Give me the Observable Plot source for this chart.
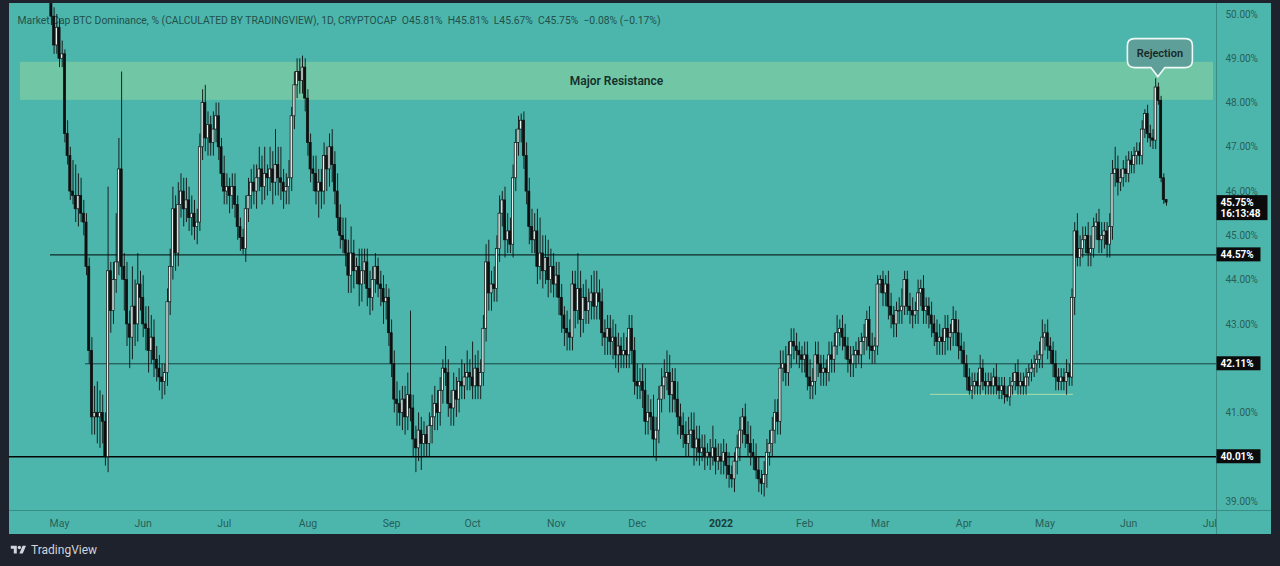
<!DOCTYPE html>
<html>
<head>
<meta charset="utf-8">
<script src="https://cdn.jsdelivr.net/npm/d3@7"></script>
<script src="https://cdn.jsdelivr.net/npm/@observablehq/plot@0.6"></script>
<style>
  html, body { margin: 0; padding: 0; }
  body { width: 1280px; height: 566px; overflow: hidden; position: relative; background: #1e222d; font-family: Roboto, "Noto Sans", sans-serif; }
  #panel { position: absolute; left: 9px; top: 3px; width: 1262px; height: 531px; background: #4db6ac; }
  #vdiv { position: absolute; left: 1216px; top: 3px; width: 1px; height: 531px; background: #3a8d85; }
  #hdiv { position: absolute; left: 9px; top: 510px; width: 1262px; height: 1px; background: #3a8d85; }
  #chart { position: absolute; left: 0; top: 0; }
  #brand { position: absolute; left: 10px; top: 543px; display: flex; align-items: center; gap: 4px; color: #d1d4dc; font-size: 12px; font-family: Roboto, sans-serif; }
</style>
</head>
<body>
<div id="panel"></div>
<div id="vdiv"></div>
<div id="hdiv"></div>
<div id="chart"></div>
<div id="brand"><svg width="17" height="12" viewBox="0 0 36 28"><path d="M14 22H7V11H0V4h14v18zM28 22h-8l7.5-18h8L28 22z" fill="#d1d4dc"/><circle cx="20" cy="8" r="4" fill="#d1d4dc"/></svg><span>TradingView</span></div>
<script>
// ---------- DATA ----------
const firstDay = "2021-04-23";          // date of the first daily candle
// daily closes, %, one per day from firstDay
const closes = [
  51.0,51.3,51.5,51.2,50.9,49.95,49.3,49.7,49.0,49.1,
  47.3,46.8,46.0,45.9,45.6,45.9,45.5,45.3,44.3,42.4,
  40.9,41.0,40.9,41.0,40.8,40.0,44.2,43.3,44.0,44.4,
  46.5,44.3,44.0,43.0,42.7,43.4,43.0,43.9,43.6,43.0,
  42.9,42.4,42.7,42.2,42.0,41.8,41.7,41.9,43.5,44.3,
  45.6,44.6,45.7,46.0,45.6,45.8,45.4,45.5,45.2,45.3,
  47.0,48.0,47.2,47.5,47.1,47.4,47.7,47.0,46.4,46.0,
  46.1,45.9,46.1,45.7,45.2,44.95,44.7,45.6,45.9,46.2,
  46.0,46.3,46.5,46.1,46.4,46.3,46.5,46.2,46.6,46.3,
  46.2,46.0,46.1,46.3,47.7,48.4,48.7,48.5,48.8,48.1,
  47.1,46.5,46.4,46.0,46.2,46.0,46.8,46.5,47.0,46.6,
  46.0,45.4,45.0,44.9,44.6,44.1,44.6,44.2,44.3,43.9,
  44.2,44.4,43.8,43.6,44.0,44.3,43.9,43.8,43.5,43.6,
  42.8,42.1,41.3,41.2,41.0,41.3,40.9,41.4,41.1,40.4,
  40.2,40.6,40.3,40.5,40.3,40.7,40.9,41.2,41.0,41.5,
  42.0,41.9,41.2,41.1,41.5,41.3,41.7,41.6,41.8,41.9,
  41.8,41.6,42.0,41.6,41.9,42.9,44.4,43.7,43.9,43.8,
  44.7,45.5,45.8,44.9,45.1,44.8,46.3,47.1,47.4,47.6,
  46.8,46.0,45.2,44.9,45.1,44.3,44.6,44.2,44.5,44.0,
  44.3,43.9,44.1,43.6,43.2,42.9,42.8,42.7,43.9,43.3,
  43.8,43.1,43.6,43.3,43.5,43.7,43.4,43.7,43.5,42.8,
  42.7,42.9,42.6,42.7,42.3,42.5,42.3,42.4,42.3,42.9,
  42.4,41.7,41.6,41.7,41.5,40.8,41.0,40.9,40.4,40.6,
  41.3,41.6,41.8,41.9,41.4,41.7,41.3,40.9,40.7,40.5,
  40.3,40.5,40.6,40.2,40.4,40.1,40.2,40.0,40.1,40.0,
  40.2,39.9,40.0,39.9,40.1,39.8,39.6,39.5,39.9,40.2,
  40.6,40.9,40.5,40.3,40.1,40.0,39.7,39.5,39.4,39.6,
  40.1,40.3,40.6,41.0,40.8,42.0,42.1,41.9,42.3,42.6,
  42.5,42.4,42.3,42.2,42.3,41.8,41.6,41.7,42.3,42.1,
  41.9,42.0,41.9,42.3,42.2,42.5,42.8,42.9,42.7,42.5,
  42.2,42.1,42.3,42.4,42.3,42.6,42.7,43.1,42.5,42.4,
  42.5,43.9,44.0,43.7,43.9,43.4,43.2,43.0,43.3,43.3,
  43.4,44.0,43.4,43.3,43.2,43.3,43.7,43.8,43.3,43.4,
  43.2,43.0,42.8,42.6,42.7,42.6,42.9,42.7,42.8,43.1,
  42.8,42.5,42.4,42.1,41.8,41.5,41.6,41.7,41.6,42.0,
  41.7,41.6,41.7,41.6,41.8,41.6,41.5,41.6,41.4,41.35,
  41.6,41.7,41.9,41.6,41.7,41.6,41.8,41.9,42.0,42.1,
  42.2,42.3,42.7,42.8,42.5,42.4,42.1,41.8,41.7,41.8,
  41.7,41.9,41.8,43.6,45.1,44.5,44.7,44.9,45.0,44.6,
  44.7,45.2,45.3,44.9,45.0,45.1,44.8,45.2,46.4,46.5,
  46.2,46.3,46.5,46.4,46.7,46.6,46.8,46.9,46.8,47.4,
  47.75,47.3,47.2,47.15,48.35,48.05,46.3,45.81,45.75
];
// upper wick length above the body, %
const wickUp = [
  .1,.2,.3,.2,.1,.3,.2,.3,.2,.3,
  .1,.3,.2,.7,.7,.5,.4,.3,.2,.2,
  .3,.6,.7,.5,.4,.2,1.9,.2,.4,1.1,
  .7,2.2,.3,.4,.3,.9,.6,.7,.3,.5,
  .4,.5,.5,.4,.3,.3,.3,.2,.3,.4,
  .5,.3,.5,.4,.3,.5,.3,.4,.3,.3,
  .3,.3,.4,.3,.2,.4,.3,.3,.2,.4,
  .3,.2,.3,.3,.2,.2,.2,.3,.4,.3,
  .4,.3,.5,.3,.6,.2,.5,.4,.8,.4,
  .7,.3,.3,.4,.2,.3,.3,.3,.26,.2,
  .2,.2,.3,.4,.3,.3,.3,.2,.3,.4,
  .3,.4,.3,.4,.5,.3,.6,.3,.2,.4,
  .5,.3,.3,.4,.3,.3,.2,.3,.3,.3,
  .2,.3,.3,.4,.3,.3,.3,.5,1.9,.3,
  .3,.4,.3,.3,.2,.3,.5,.4,.3,.3,
  .2,.5,.3,.3,.4,.3,.3,.5,.3,.5,
  .3,.8,.3,.4,.3,.3,.4,.5,.3,.4,
  .3,.4,.2,.3,.4,.3,.3,.3,.3,.15,
  .2,.3,.3,.4,.4,.5,.8,.4,.5,.4,
  .4,.3,.3,.3,.3,.2,.4,.3,.3,.3,
  .8,.4,.3,.4,.3,.4,.5,.5,.3,.3,
  .3,.3,.3,.4,.3,.3,.2,.4,.3,.3,
  .3,.3,.4,.3,.4,.5,.4,.3,.5,.3,
  .3,.4,.4,.5,.4,.3,.3,.4,.3,.3,
  .3,.4,.4,.4,.3,.3,.3,.3,.2,.3,
  .5,.2,.3,.3,.3,.2,.3,.2,.2,.3,
  .3,.2,.3,.3,.4,.3,.3,.3,.2,.3,
  .3,.3,.3,.3,.3,.4,.3,.4,.3,.3,
  .3,.3,.2,.2,.3,.3,.4,.3,.3,.3,
  .2,.3,.2,.3,.3,.3,.4,.2,.3,.3,
  .2,.3,.2,.2,.3,.2,.3,.2,.3,.3,
  .2,.2,.1,.2,.2,.3,.3,.2,.2,.3,
  .4,.2,.2,.3,.3,.2,.3,.2,.3,.2,
  .2,.3,.2,.3,.3,.2,.3,.3,.2,.3,
  .2,.3,.3,.2,.2,.2,.3,.2,.2,.3,
  .2,.2,.2,.2,.2,.3,.2,.2,.2,.2,
  .2,.2,.2,.3,.2,.2,.2,.2,.2,.2,
  .2,.3,.4,.2,.3,.2,.2,.3,.2,.2,
  .2,.3,.2,.2,.2,.4,.3,.3,.2,.3,
  .3,.2,.2,.3,.3,.2,.2,.3,.3,.5,
  .3,.2,.2,.3,.2,.2,.2,.2,.2,.2,
  .1,.2,.2,.2,.2,.1,.1,.1,0
];
// lower wick length below the body, %
const wickDown = [
  .75,.2,.2,.2,.2,.2,.2,.2,.2,.2,
  .2,.2,.2,.2,.3,.4,.2,.3,.2,.3,
  .4,.4,.6,.7,.5,.2,.35,.5,.3,.3,
  .3,.3,.7,.5,.7,.5,.5,.4,.3,.3,
  .5,.5,.3,.4,.3,.3,.4,.3,.3,.3,
  .3,.4,.3,.3,.4,.3,.3,.4,.3,.4,
  .2,.3,.3,.4,.3,.3,.3,.3,.3,.3,
  .3,.4,.3,.3,.3,.3,.12,.3,.3,.3,
  .3,.4,.3,.4,.3,.4,.3,.5,.3,.4,
  .4,.4,.3,.4,.3,.3,.3,.3,.3,.3,
  .3,.3,.4,.3,.6,.4,.3,.5,.4,.4,
  .3,.3,.3,.3,.3,.4,.4,.4,.3,.5,
  .4,.3,.4,.4,.3,.3,.3,.4,.5,.4,
  .3,.3,.3,.5,.3,.4,.4,.3,.3,.4,
  .55,.3,.6,.3,.3,.3,.4,.3,.4,.3,
  .3,.3,.3,.4,.4,.4,.3,.3,.3,.3,
  .3,.3,.3,.3,.3,.3,.3,.4,.4,.3,
  .3,.3,.3,.4,.3,.2,.3,.3,.3,.3,
  .3,.3,.4,.3,.3,.4,.3,.4,.3,.4,
  .3,.3,.3,.4,.4,.4,.4,.3,.3,.4,
  .3,.4,.3,.3,.3,.4,.3,.3,.4,.3,
  .4,.4,.3,.4,.3,.4,.3,.3,.3,.3,
  .3,.3,.3,.3,.4,.3,.3,.3,.4,.5,
  .3,.3,.3,.3,.4,.4,.3,.4,.3,.3,
  .3,.3,.3,.4,.3,.3,.2,.3,.2,.3,
  .2,.3,.2,.3,.3,.3,.3,.2,.3,.3,
  .3,.3,.3,.3,.3,.3,.2,.3,.25,.3,
  .3,.3,.3,.3,.3,.3,.3,.3,.3,.3,
  .3,.3,.3,.3,.3,.3,.3,.3,.3,.3,
  .3,.3,.3,.2,.3,.3,.2,.3,.3,.3,
  .3,.3,.3,.3,.2,.3,.3,.3,.3,.3,
  .3,.2,.2,.3,.3,.3,.3,.3,.3,.3,
  .3,.2,.2,.3,.3,.2,.3,.3,.3,.3,
  .3,.3,.3,.3,.3,.3,.3,.3,.3,.3,
  .3,.3,.3,.3,.3,.1,.2,.2,.2,.2,
  .2,.2,.2,.2,.2,.2,.2,.2,.2,.1,
  .2,.2,.2,.2,.2,.2,.2,.2,.2,.2,
  .2,.2,.3,.3,.3,.3,.3,.3,.2,.2,
  .2,.3,.2,.2,.4,.2,.2,.2,.3,.3,
  .3,.2,.3,.3,.3,.3,.3,.3,.3,.3,
  .3,.2,.2,.2,.2,.2,.2,.2,.2,.2,
  .2,.2,.2,.2,.2,.1,.1,.1,.08
];

// right-axis tick labels shown (TradingView hides 40 and 42 behind the level tags)
const yTicks = [39, 41, 43, 44, 45, 46, 47, 48, 49, 50];
const monthTicks = ["2021-05-01","2021-06-01","2021-07-01","2021-08-01","2021-09-01","2021-10-01","2021-11-01","2021-12-01","2022-01-01","2022-02-01","2022-03-01","2022-04-01","2022-05-01","2022-06-01","2022-07-01"];
const monthLabels = ["May","Jun","Jul","Aug","Sep","Oct","Nov","Dec","2022","Feb","Mar","Apr","May","Jun","Jul"];

const levelValues = [44.57, 42.11, 40.01];
const levelStarts = ["2021-04-27T16:00Z", "2021-05-10T15:00Z", "2021-04-12T11:30Z"];
const levelColors = ["#0f2826", "#1a4540", "#050505"];
const levelWidths = [1.1, 1, 1.6];

const resistanceLow = 48.06, resistanceHigh = 48.92;
const resistanceStart = "2021-04-16T13:00Z", resistanceEnd = "2022-07-02T10:00Z";
const resistanceLabel = "Major Resistance", resistanceLabelDate = "2021-11-23T07:00Z";

const supportValue = 41.42, supportStart = "2022-03-19T14:00Z", supportEnd = "2022-05-11T12:00Z";

const titleText = "Market Cap BTC Dominance, % (CALCULATED BY TRADINGVIEW), 1D, CRYPTOCAP  O45.81%  H45.81%  L45.67%  C45.75%  \u22120.08% (\u22120.17%)";
const lastPrice = 45.75, countdown = "16:13:48";
const rejectionIndex = 415, rejectionText = "Rejection";

const xDomain = ["2021-04-12T11:30Z", "2022-07-03T12:29Z"];
const yDomain = [38.796, 50.248];

// ---------- BUILD ----------
const start = new Date(firstDay + "T00:00Z");
const candles = closes.map((c, i) => {
  const o = i ? closes[i - 1] : c;
  return {
    date: d3.utcDay.offset(start, i),
    open: o, close: c,
    high: Math.max(o, c) + wickUp[i],
    low: Math.min(o, c) - wickDown[i]
  };
});
const halfBar = 0.4 * 864e5;
const levels = levelValues.map((v, i) => ({v, x1: new Date(levelStarts[i]), x2: new Date(xDomain[1]), c: levelColors[i], w: levelWidths[i]}));
const labelColor = "#275f59";
const tickMap = new Map(monthTicks.map((t, i) => [+new Date(t + "T00:00Z"), monthLabels[i]]));

const chart = Plot.plot({
  width: 1280, height: 566,
  marginLeft: 9, marginRight: 64, marginTop: 3, marginBottom: 56,
  style: {background: "transparent", fontFamily: "Roboto, sans-serif", overflow: "visible"},
  x: {type: "utc", domain: xDomain.map(d => new Date(d))},
  y: {domain: yDomain},
  marks: [
    Plot.text([titleText], {frameAnchor: "top-left", dx: 8, dy: 13, text: d => d, fill: "#22504b", fontSize: 11, textAnchor: "start"}),
    Plot.rect([{x1: new Date(resistanceStart), x2: new Date(resistanceEnd), y1: resistanceLow, y2: resistanceHigh}],
      {x1: "x1", x2: "x2", y1: "y1", y2: "y2", fill: "#8fd6a0", fillOpacity: 0.55}),
    Plot.text([resistanceLabel], {x: () => new Date(resistanceLabelDate), y: () => (resistanceLow + resistanceHigh) / 2, text: d => d, fill: "#15302c", fontSize: 12, fontWeight: 600}),
    Plot.ruleY(levels, {y: "v", x1: "x1", x2: "x2", stroke: "c", strokeWidth: "w"}),
    Plot.ruleY([supportValue], {x1: () => new Date(supportStart), x2: () => new Date(supportEnd), stroke: "#c5e8a8", strokeOpacity: 0.8, strokeWidth: 1}),
    Plot.ruleX(candles, {x: "date", y1: "low", y2: "high", stroke: "#101010", strokeWidth: 0.9, clip: true}),
    Plot.rect(candles, {
      x1: d => new Date(+d.date - halfBar), x2: d => new Date(+d.date + halfBar),
      y1: "open", y2: d => Math.abs(d.close - d.open) < 0.02 ? d.open - 0.02 : d.close,
      fill: d => d.close >= d.open ? "#e4f2ef" : "#101010",
      stroke: "#101010", strokeWidth: 0.7, clip: true
    }),
    Plot.axisY({anchor: "right", ticks: yTicks, tickSize: 0, tickPadding: 9, tickFormat: d => d.toFixed(2) + "%", fill: labelColor, fontSize: 10, label: null}),
    Plot.axisX({ticks: monthTicks.map(t => new Date(t + "T00:00Z")), tickSize: 0, tickPadding: 9, tickFormat: d => tickMap.get(+d), fill: labelColor, fontSize: 10.5, label: null})
  ]
});
document.getElementById("chart").appendChild(chart);

const svg = d3.select(chart);
svg.selectAll("text").filter(function() { return this.textContent === "2022"; }).attr("font-weight", "bold").attr("fill", "#173d39");
svg.selectAll("text").filter(function() { return this.textContent === titleText; })
  .attr("textLength", 643).attr("lengthAdjust", "spacingAndGlyphs");

const xs = chart.scale("x"), ys = chart.scale("y");
const axisX0 = 1280 - 64;
const tags = svg.append("g").attr("font-family", "Roboto, sans-serif").attr("text-anchor", "start");
function tag(value, lines, w) {
  const yc = ys.apply(value);
  const h = 14 + (lines.length - 1) * 11;
  tags.append("rect").attr("x", axisX0 + 0.5).attr("y", yc - 7).attr("width", w).attr("height", h).attr("fill", "#0b0b0b");
  lines.forEach((t, i) => tags.append("text").attr("x", axisX0 + 4.5).attr("y", yc + i * 11).attr("dy", "0.35em")
    .attr("text-anchor", "start").attr("fill", "#ffffff").attr("font-size", 10).attr("font-weight", "bold").text(t));
}
levelValues.forEach(v => tag(v, [v.toFixed(2) + "%"], 44));
tag(lastPrice, [lastPrice.toFixed(2) + "%", countdown], 51);

// Rejection callout, anchored on the rejection candle's high
const rc = candles[rejectionIndex];
const tipX = xs.apply(rc.date), tipY = ys.apply(rc.high) - 6;
const bw = 65, bh = 29, r = 7;
const bx = tipX + 2 - bw / 2, by = tipY - 9 - bh;
const p = `M${bx + r},${by}H${bx + bw - r}Q${bx + bw},${by} ${bx + bw},${by + r}V${by + bh - r}Q${bx + bw},${by + bh} ${bx + bw - r},${by + bh}` +
  `H${tipX + 7}L${tipX},${tipY}L${tipX - 7},${by + bh}H${bx + r}Q${bx},${by + bh} ${bx},${by + bh - r}V${by + r}Q${bx},${by} ${bx + r},${by}Z`;
svg.append("path").attr("d", p).attr("fill", "#5f9f99").attr("stroke", "#eef9f6").attr("stroke-width", 1.6);
svg.append("text").attr("x", bx + bw / 2).attr("y", by + bh / 2).attr("dy", "0.35em").attr("text-anchor", "middle")
  .attr("font-family", "Roboto, sans-serif").attr("font-size", 11).attr("font-weight", 600).attr("fill", "#1a2928").text(rejectionText);
</script>
</body>
</html>
